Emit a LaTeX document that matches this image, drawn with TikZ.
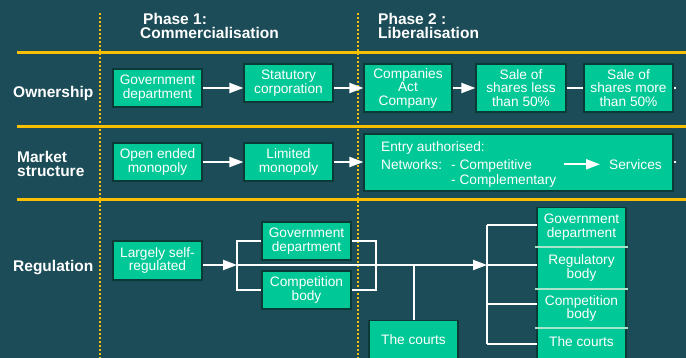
\documentclass[tikz,border=0pt]{standalone}
\usepackage{fontspec}
\setmainfont{Liberation Sans}
\usetikzlibrary{arrows.meta}

\definecolor{slate}{HTML}{1C4C57}
\definecolor{panel}{HTML}{00C896}
\definecolor{panelrim}{HTML}{0B3A36}
\definecolor{rulegold}{HTML}{F8C000}
\definecolor{divider}{HTML}{A8E4CC}

\newcommand\cellfont{\fontsize{13.7}{13.5}\selectfont}
\newcommand\phasefont{\bfseries\fontsize{15.5}{14}\selectfont}

\tikzset{
  box/.style={draw=panelrim, line width=1.2pt, fill=panel, text=white,
    align=center, inner sep=0pt, font=\cellfont},
  cell/.style={text=white, align=center, inner sep=0pt, font=\cellfont,
    minimum width=89pt},
  inlbl/.style={text=white, inner sep=0pt, font=\cellfont, anchor=base west},
  phase/.style={text=white, font=\phasefont, align=left, inner sep=0pt},
  wire/.style={draw=white, line width=2pt},
  arr/.style={wire, -{Triangle[length=14pt,width=10pt]}},
  goldrule/.style={draw=rulegold, line width=3pt},
  golddots/.style={draw=rulegold, line width=2.5pt, dash pattern=on 2pt off 2pt},
  sep/.style={draw=divider, line width=1.5pt}
}

\begin{document}
\begin{tikzpicture}[x=1pt, y=-1pt]
\useasboundingbox (0,0) rectangle (686,358);
\clip (0,0) rectangle (686,358);
\fill[slate] (0,0) rectangle (686,358);

% grid of rules
\coordinate (r1a) at (17,53);   \coordinate (r1b) at (686,53);
\coordinate (r2a) at (17,127);  \coordinate (r2b) at (686,127);
\coordinate (r3a) at (17,200);  \coordinate (r3b) at (686,200);
\coordinate (v1a) at (100,13);  \coordinate (v1b) at (100,358);
\coordinate (v2a) at (358,13);  \coordinate (v2b) at (358,358);
\draw[goldrule] (r1a) -- (r1b);
\draw[goldrule] (r2a) -- (r2b);
\draw[goldrule] (r3a) -- (r3b);
\draw[golddots] (v1a) -- (v1b);
\draw[golddots] (v2a) -- (v2b);

% column headings
\node[phase, anchor=west] (ph1) at (140,25.5) {\hspace*{3pt}Phase 1:\\Commercialisation};
\node[phase, anchor=west] (ph2) at (378,25.5) {Phase 2 :\\Liberalisation};

% row headings
\node[phase, anchor=base west] (rowown) at (13,97.3) {Ownership};
\node[phase, anchor=west] (rowmkt) at (17,164.2) {Market\\structure};
\node[phase, anchor=base west] (rowreg) at (13,271.5) {Regulation};

% ownership
\node[box, minimum width=89pt, minimum height=38pt] (gd) at (157.5,88) {Government\\department};
\node[box, minimum width=89pt, minimum height=38pt] (sc) at (288.5,83) {Statutory\\corporation};
\node[box, minimum width=88pt, minimum height=48pt] (cac) at (408,88) {Companies\\Act\\Company};
\node[box, minimum width=90pt, minimum height=48pt] (sl) at (521,88) {Sale of\\shares less\\than 50\%};
\node[box, minimum width=89pt, minimum height=48pt] (sm) at (628.5,88) {Sale of\\shares more\\than 50\%};
\coordinate (ownend) at (676,88);

\draw[arr] (gd.east) -- (gd.east -| sc.west);
\draw[arr] (gd.east -| sc.east) -- (cac.west);
\draw[arr] (cac.east) -- (sl.west);
\draw[wire] (sl.east) -- (sm.west);
\draw[wire] (sm.east) -- (ownend);

% market structure
\node[box, minimum width=89pt, minimum height=38pt] (oem) at (157.5,162) {Open ended\\monopoly};
\node[box, minimum width=89pt, minimum height=38pt] (lm) at (288.5,162) {Limited\\monopoly};
\node[box, minimum width=309pt, minimum height=57pt] (entry) at (518.5,162.5) {};
\node[inlbl] (ea) at (381,151.5) {Entry authorised:};
\node[inlbl] (nw) at (381,169.5) {Networks:};
\node[inlbl] (cp) at (451,169.5) {- Competitive};
\node[inlbl] (cm) at (451,185) {- Complementary};
\node[inlbl] (sv) at (609,169.5) {Services};
\coordinate (nwarrow) at (564,164.3);
\coordinate (mktend) at (676,162);

\draw[arr] (oem.east) -- (lm.west);
\draw[arr] (lm.east) -- (lm.east -| entry.west);
\draw[arr, shorten >=9pt] (nwarrow) -- (nwarrow -| sv.west);
\draw[wire] (entry.east |- lm.east) -- (mktend);

% regulation
\node[box, minimum width=89pt, minimum height=39pt] (lsr) at (157.5,260.5) {Largely self-\\regulated};
\node[box, minimum width=89pt, minimum height=38pt] (rgd) at (306.5,241) {Government\\department};
\node[box, minimum width=89pt, minimum height=38pt] (rcb) at (306.5,290) {Competition\\body};
\node[box, anchor=north, minimum width=89pt, text height=24pt, text depth=36pt] (courts) at (413.5,320) {The courts};

\node[box, anchor=north, minimum width=89pt, minimum height=180pt] (stack) at (581.5,207) {};
\node[cell, minimum height=40pt] (s1) at (581.5,227) {Government\\department};
\node[cell, minimum height=42pt] (s2) at (581.5,268) {Regulatory\\body};
\node[cell, minimum height=39pt] (s3) at (581.5,308.5) {Competition\\body};
\node[cell, minimum height=28pt] (s4) at (581.5,342) {The courts};
\draw[sep] ([xshift=-2pt]s1.south west) -- ([xshift=2pt]s1.south east);
\draw[sep] ([xshift=-2pt]s2.south west) -- ([xshift=2pt]s2.south east);
\draw[sep] ([xshift=-2pt]s3.south west) -- ([xshift=2pt]s3.south east);

\coordinate (j1) at (237,265);
\coordinate (j2) at (376,265);
\coordinate (j3) at (487,265);

\draw[arr] (lsr.east |- j1) -- (j1);
\draw[wire] (rgd.west) -| (j1) |- (rcb.west);
\draw[wire] (rgd.east) -| (j2) |- (rcb.east);
\draw[arr] (j1) -- (j3);
\draw[wire] (courts.north) -- (courts.north |- j1);
\draw[wire] (j3 |- 0,225) -- (j3 |- 0,344);
\draw[wire] (j3 |- 0,225) -- (s1.west |- 0,225);
\draw[wire] (j3) -- (j3 -| s2.west);
\draw[wire] (j3 |- 0,304) -- (s3.west |- 0,304);
\draw[wire] (j3 |- 0,344) -- (s4.west |- 0,344);
\end{tikzpicture}
\end{document}
